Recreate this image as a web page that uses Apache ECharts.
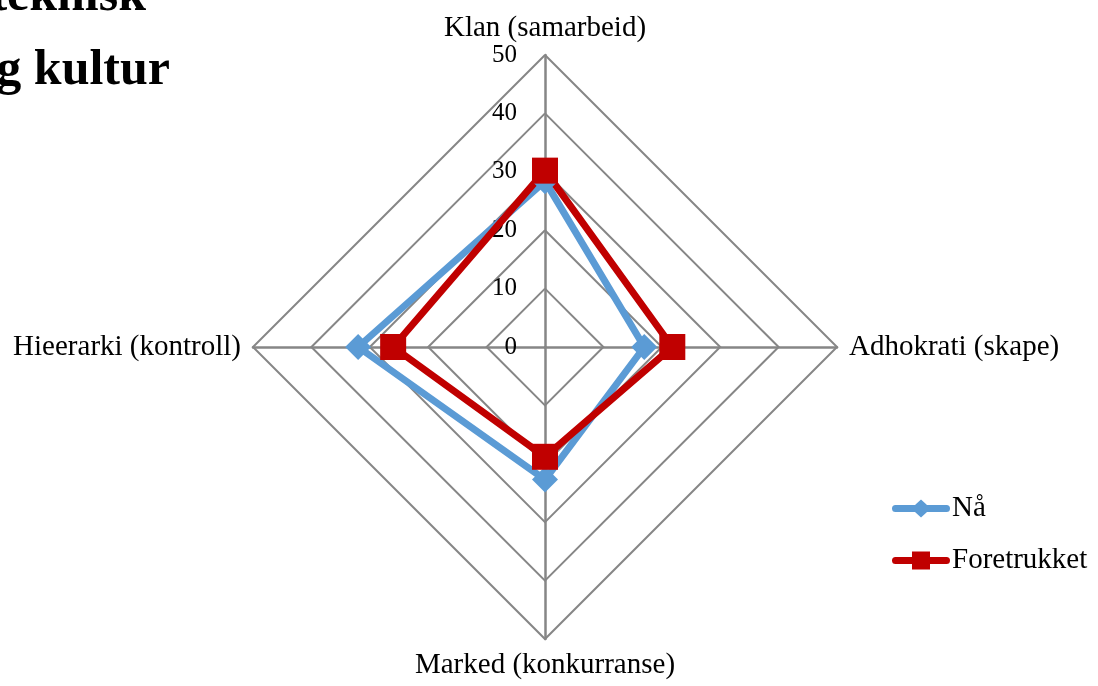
<!DOCTYPE html>
<html>
<head>
<meta charset="utf-8">
<title>Organisasjonskultur</title>
<script src="https://cdn.jsdelivr.net/npm/echarts@6/dist/echarts.min.js"></script>
<style>
  html, body { margin: 0; padding: 0; background: #ffffff; }
  #chart { width: 1098px; height: 686px; }
</style>
</head>
<body>
<div id="chart"></div>
<script>
// Culture dimensions, listed clockwise from the top
const categories = ['Klan (samarbeid)', 'Adhokrati (skape)', 'Marked (konkurranse)', 'Hieerarki (kontroll)'];
const seriesNames = ['Nå', 'Foretrukket'];
const naValues = [28.4, 17.0, 22.7, 32.0];
const foretrukketValues = [30.2, 21.8, 18.8, 26.0];
const tickLabels = ['0', '10', '20', '30', '40', '50'];
const headingLines = ['teknisk', 'og kultur'];

const axisMin = 0;
const axisMax = 50;
const colors = ['#5B9BD5', '#C00000'];
const serif = '"Liberation Serif", "DejaVu Serif", serif';

// ECharts lays radar indicators out counter-clockwise; keep the first one on top
// and reverse the rest so the axes run clockwise.
const order = [0].concat(categories.map((_, i) => i).slice(1).reverse());
const reorder = arr => order.map(i => arr[i]);

const indicator = reorder(categories).map((name, i) => ({
  name: name,
  min: axisMin,
  max: axisMax,
  axisLabel: { show: i === 0 }
}));

// Legend icons: a thick line with the series marker in the middle
const iconDiamond = 'path://M3.5,5.5 L23,5.5 L29,0 L35,5.5 L54.5,5.5 A3.5,3.5 0 0 1 54.5,12.5 L35,12.5 L29,18 L23,12.5 L3.5,12.5 A3.5,3.5 0 0 1 3.5,5.5 Z';
const iconSquare = 'path://M3.5,5.5 L20,5.5 L20,0 L38,0 L38,5.5 L54.5,5.5 A3.5,3.5 0 0 1 54.5,12.5 L38,12.5 L38,18 L20,18 L20,12.5 L3.5,12.5 A3.5,3.5 0 0 1 3.5,5.5 Z';

const chart = echarts.init(document.getElementById('chart'), null, { renderer: 'canvas' });

chart.setOption({
  backgroundColor: '#ffffff',
  animation: false,
  textStyle: { fontFamily: serif },
  graphic: [
    {
      type: 'text',
      right: 1098 - 146,
      top: -28,
      style: { text: headingLines[0], font: 'bold 50px ' + serif, fill: '#000000' }
    },
    {
      type: 'text',
      right: 1098 - 170,
      top: 46,
      style: { text: headingLines[1], font: 'bold 50px ' + serif, fill: '#000000' }
    }
  ],
  legend: {
    orient: 'vertical',
    left: 887,
    top: 489,
    itemWidth: 58,
    itemHeight: 18,
    itemGap: 23,
    data: [
      { name: seriesNames[0], icon: iconDiamond },
      { name: seriesNames[1], icon: iconSquare }
    ],
    textStyle: { fontFamily: serif, fontSize: 29, color: '#000000', lineHeight: 18, padding: [0, 0, 0, -3] }
  },
  radar: {
    center: [545, 347],
    radius: 292,
    startAngle: 90,
    shape: 'polygon',
    splitNumber: tickLabels.length - 1,
    indicator: indicator,
    nameGap: 12,
    axisName: { color: '#000000', fontFamily: serif, fontSize: 29 },
    axisLine: { lineStyle: { color: '#868686', width: 2.5 } },
    axisTick: { show: false },
    axisLabel: {
      show: true,
      color: '#000000',
      fontFamily: serif,
      fontSize: 25,
      margin: 28,
      padding: [5, 0, 0, 0],
      formatter: v => tickLabels[Math.round((v - axisMin) / 10)] ?? String(v)
    },
    splitLine: { lineStyle: { color: '#868686', width: 2 } },
    splitArea: { show: false }
  },
  series: [
    {
      type: 'radar',
      data: [
        {
          name: seriesNames[0],
          value: reorder(naValues),
          symbol: 'diamond',
          symbolSize: [26, 26],
          itemStyle: { color: colors[0] },
          lineStyle: { color: colors[0], width: 7 }
        },
        {
          name: seriesNames[1],
          value: reorder(foretrukketValues),
          symbol: 'rect',
          symbolSize: [26, 26],
          itemStyle: { color: colors[1] },
          lineStyle: { color: colors[1], width: 7 }
        }
      ]
    }
  ]
});
</script>
</body>
</html>
